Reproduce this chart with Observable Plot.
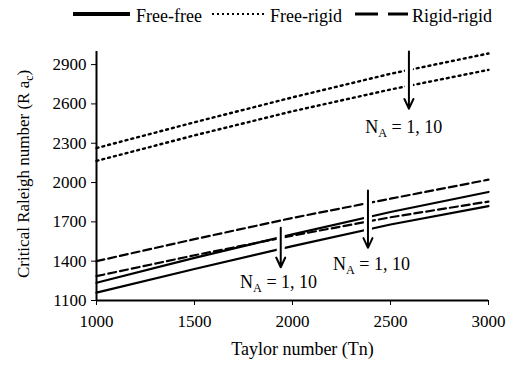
<!DOCTYPE html>
<html>
<head>
<meta charset="utf-8">
<script src="https://cdn.jsdelivr.net/npm/d3@7"></script>
<script src="https://cdn.jsdelivr.net/npm/@observablehq/plot@0.6"></script>
<style>
  html, body { margin: 0; padding: 0; background: white; }
  body { width: 508px; height: 368px; overflow: hidden; font-family: "Liberation Serif", "Times New Roman", serif; }
  #legend { position: relative; width: 508px; height: 30px; }
  #legend span { position: absolute; top: 7px; font-size: 18px; line-height: 18px; color: black; white-space: nowrap; font-family: "Liberation Serif", serif; }
  #legend svg { position: absolute; left: 0; top: 0; }
  #chart svg { display: block; }
</style>
</head>
<body>
<div id="legend"></div>
<div id="chart"></div>
<script>
// ---- data ----
const taylor = [1000, 1500, 2000, 2500, 3000];
const freeFreeNA1 = [1235, 1425, 1605, 1775, 1928];
const freeFreeNA10 = [1160, 1340, 1515, 1680, 1820];
const freeRigidNA1 = [2263, 2460, 2650, 2830, 2985];
const freeRigidNA10 = [2165, 2360, 2544, 2710, 2860];
const rigidRigidNA1 = [1400, 1568, 1730, 1877, 2022];
const rigidRigidNA10 = [1286, 1445, 1595, 1735, 1855];

const xTicks = [1000, 1500, 2000, 2500, 3000];
const yTicks = [1100, 1400, 1700, 2000, 2300, 2600, 2900];

const boundaryNames = ["Free-free", "Free-rigid", "Rigid-rigid"];
const arrowX = [2594, 2385, 1940];
const arrowFrom = [3000, 1940, 1655];
const arrowTo = [2564, 1502, 1354];
const labelX = [2567, 2403, 1929];
const labelY = [2425, 1378, 1243];
const labelText = "N_{A} = 1, 10";
const xTitle = "Taylor number (Tn)";
const yTitle = "Critical Raleigh number (R a_{c})";

// ---- build tables ----
function series(values, na) { return taylor.map((t, i) => ({t, r: values[i], na})); }
const ffData = [...series(freeFreeNA1, 1), ...series(freeFreeNA10, 10)];
const frData = [...series(freeRigidNA1, 1), ...series(freeRigidNA10, 10)];
const rrData = [...series(rigidRigidNA1, 1), ...series(rigidRigidNA10, 10)];
const arrows = arrowX.map((x, i) => ({x, y1: arrowFrom[i], y2: arrowTo[i]}));
const labels = labelX.map((x, i) => ({x, y: labelY[i], text: labelText}));

const font = '"Liberation Serif", "Times New Roman", serif';

const chart = Plot.plot({
  width: 508,
  height: 338,
  marginLeft: 96,
  marginRight: 20,
  marginTop: 21,
  marginBottom: 68,
  style: {fontFamily: font, fontSize: "17px", color: "black", background: "white", overflow: "visible"},
  x: {domain: [1000, 3000], ticks: xTicks, tickFormat: d => String(d), tickSize: 5, tickPadding: 9, label: null},
  y: {domain: [1100, 3000], ticks: yTicks, tickFormat: d => String(d), tickSize: 5, tickPadding: 5, label: null},
  marks: [
    Plot.line(ffData, {x: "t", y: "r", z: "na", stroke: "black", strokeWidth: 2.2}),
    Plot.line(frData, {x: "t", y: "r", z: "na", stroke: "black", strokeWidth: 2.4, strokeDasharray: "2,4"}),
    Plot.line(rrData, {x: "t", y: "r", z: "na", stroke: "black", strokeWidth: 2.2, strokeDasharray: "8,4"}),
    Plot.arrow(arrows, {x1: "x", x2: "x", y1: "y1", y2: "y2", stroke: "white", strokeWidth: 8, headLength: 0}),
    Plot.arrow(arrows, {x1: "x", x2: "x", y1: "y1", y2: "y2", stroke: "black", strokeWidth: 2, headLength: 8, headAngle: 50}),
    Plot.ruleX([1000], {y1: 1100, y2: 3000, stroke: "black", strokeWidth: 2}),
    Plot.ruleY([1100], {x1: 1000, x2: 3000, stroke: "black", strokeWidth: 2}),
    Plot.text(labels, {x: "x", y: "y", text: "text", fontSize: 18, fill: "black"}),
    Plot.text([xTitle], {frameAnchor: "bottom", textAnchor: "middle", dy: 54.6, dx: 10, fontSize: 18, fill: "black"}),
    Plot.text([yTitle], {frameAnchor: "left", textAnchor: "middle", rotate: -90, dx: -73, dy: -2, fontSize: 17, fill: "black"})
  ]
});

// subscripts as real tspans
chart.querySelectorAll("text").forEach(t => {
  const s = t.textContent;
  if (!s.includes("_{")) return;
  const parts = s.split(/(_\{[^}]*\})/);
  t.textContent = "";
  let shifted = false;
  parts.forEach(p => {
    if (!p) return;
    const ts = document.createElementNS("http://www.w3.org/2000/svg", "tspan");
    if (p.startsWith("_{")) {
      ts.textContent = p.slice(2, -1);
      ts.setAttribute("font-size", "0.68em");
      ts.setAttribute("dy", "4");
      shifted = true;
    } else {
      ts.textContent = p;
      if (shifted) { ts.setAttribute("dy", "-4"); shifted = false; }
    }
    t.appendChild(ts);
  });
});

document.getElementById("chart").appendChild(chart);

// ---- legend ----
const legend = document.getElementById("legend");
const ns = "http://www.w3.org/2000/svg";
const lsvg = document.createElementNS(ns, "svg");
lsvg.setAttribute("width", 508);
lsvg.setAttribute("height", 30);
const samples = [
  {x1: 73, x2: 130, dash: null, w: 4},
  {x1: 212, x2: 264, dash: "2,3", w: 2},
  {x1: 355, x2: 408, dash: "23,10", w: 3}
];
samples.forEach(s => {
  const l = document.createElementNS(ns, "line");
  l.setAttribute("x1", s.x1); l.setAttribute("x2", s.x2);
  l.setAttribute("y1", 14); l.setAttribute("y2", 14);
  l.setAttribute("stroke", "black");
  l.setAttribute("stroke-width", s.w);
  if (s.dash) l.setAttribute("stroke-dasharray", s.dash);
  lsvg.appendChild(l);
});
legend.appendChild(lsvg);
const textX = [136, 270, 412];
boundaryNames.forEach((name, i) => {
  const sp = document.createElement("span");
  sp.textContent = name;
  sp.style.left = textX[i] + "px";
  legend.appendChild(sp);
});
</script>
</body>
</html>
